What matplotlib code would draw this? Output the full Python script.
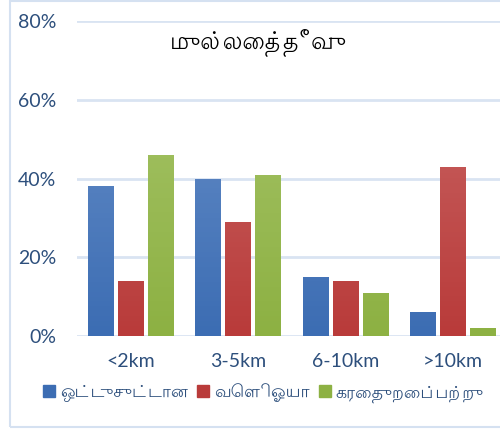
import matplotlib
matplotlib.use('Agg')
import matplotlib.pyplot as plt
from matplotlib.patches import Rectangle
from matplotlib.colors import LinearSegmentedColormap
import numpy as np

plt.rcParams['font.family'] = ['Lato', 'Lohit Tamil', 'DejaVu Sans']

# 数据
categories = ['<2km', '3-5km', '6-10km', '>10km']
series_names = ['ஒட்டுசுட்டான', 'வெளிஓயா', 'கரைதுறைப்பற்று']
oddusuddan = [0.38, 0.40, 0.15, 0.06]
veli_oya = [0.14, 0.29, 0.14, 0.43]
karaithuraippattu = [0.46, 0.41, 0.11, 0.02]
title = 'முல்லைத்தீவு'

# 颜色（上浅下深的渐变）
grads = [('#6d93cb', '#3c6db3'), ('#cb6b6a', '#b93b3a'), ('#a9c66d', '#8db143')]

fig = plt.figure(figsize=(5.0, 4.33), dpi=100)
ax = fig.add_axes([0.154, 0.224, 0.846, 0.7275])

# 外框
fig.patches.append(Rectangle((0.019, 0.013), 1.2, 0.985, transform=fig.transFigure,
                             fill=False, edgecolor='#d5e1f1', linewidth=1.5))

x = np.arange(len(categories))
w = 0.235
step = 0.28
handles = []
for i, vals in enumerate([oddusuddan, veli_oya, karaithuraippattu]):
    bars = ax.bar(x + (i - 1) * step, vals, w, color=grads[i][1], zorder=3,
                  label=series_names[i])
    handles.append(bars)
    cmap = LinearSegmentedColormap.from_list('g%d' % i, [grads[i][1], grads[i][0]])
    for b in bars:
        x0 = b.get_x()
        img = ax.imshow(np.linspace(0, 1, 64).reshape(-1, 1), cmap=cmap, origin='lower',
                        extent=[x0, x0 + b.get_width(), 0, 0.8], aspect='auto', zorder=3)
        img.set_clip_path(b)

ax.set_xlim(-0.5, 3.44)
ax.set_ylim(0, 0.8)
ax.set_yticks([0, 0.2, 0.4, 0.6, 0.8])
ax.set_yticklabels(['0%', '20%', '40%', '60%', '80%'])
ax.set_xticks(x)
ax.set_xticklabels(categories)
ax.tick_params(axis='both', length=0, labelsize=14, colors='#2d4f7c')
ax.tick_params(axis='y', pad=15)
ax.tick_params(axis='x', pad=12)
ax.grid(axis='y', color='#d9e4f2', linewidth=2, zorder=0)
for s in ax.spines.values():
    s.set_visible(False)

fig.text(0.516, 0.9, title, fontsize=17, ha='center', va='center', color='black')

leg = fig.legend(handles=handles, labels=series_names, loc='center', ncol=3,
                 bbox_to_anchor=(0.527, 0.092), frameon=False, fontsize=12.5,
                 handlelength=0.7, handleheight=0.7, handletextpad=0.3, columnspacing=0.5)
for t in leg.get_texts():
    t.set_color('#2d4f7c')
for h, c in zip(leg.legend_handles, grads):
    h.set_color(c[1])

fig.savefig('out.png', dpi=100)
